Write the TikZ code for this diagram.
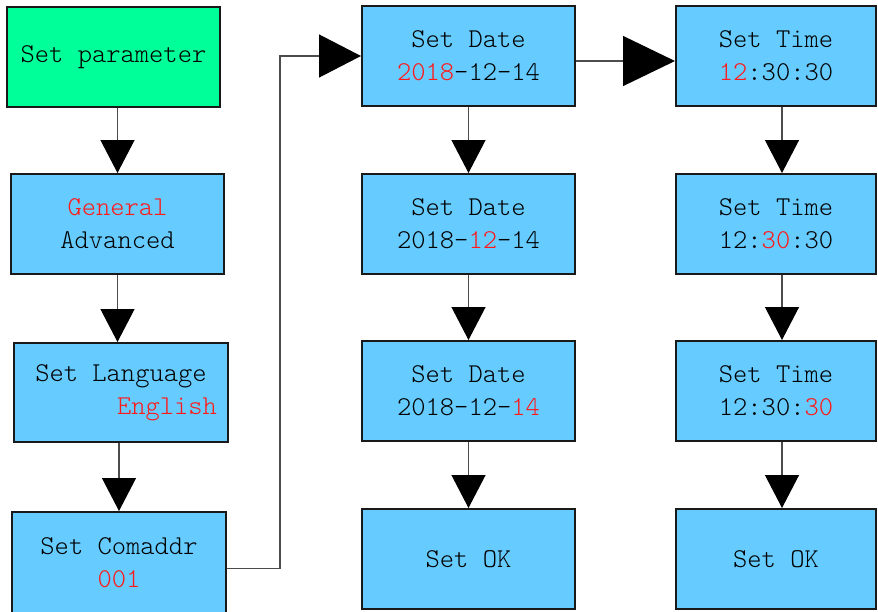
\documentclass[tikz,border=0pt]{standalone}
\usepackage{xcolor}
\usepackage{tikz}
\usetikzlibrary{arrows.meta}
\definecolor{paramgreen}{RGB}{0,255,153}
\definecolor{boxblue}{RGB}{102,204,255}
\definecolor{setred}{RGB}{255,25,25}
\newcommand{\rd}[1]{\textcolor{setred}{#1}}

\begin{document}
\begin{tikzpicture}[x=0.5pt,y=-0.5pt,
 box/.style={draw=black!90,line width=1pt,fill=boxblue,inner sep=0pt,minimum width=106.5pt,minimum height=50pt,
  align=center,font=\fontsize{13.6}{16.5}\selectfont\ttfamily\fontseries{l}\selectfont},
 link/.style={draw=black!70,line width=0.6pt},
 down/.style={link,-{Triangle[length=16.5pt,width=17pt,black]}},
 bigtip/.style={link,-{Triangle[length=21pt,width=21.5pt,black]}},
 hugetip/.style={link,-{Triangle[length=26pt,width=25pt,black]}}]
\useasboundingbox(0,0)rectangle(878,611);
\node[box,fill=paramgreen](par)at(113.5,57){Set parameter};
\node[box](mode)at(117.5,224){\rd{General}\\Advanced};
\node[box,minimum width=107pt,minimum height=49.5pt](lang)at(121,392.5){Set Language\\\hspace*{46pt}\rd{English}};
\node[box,minimum width=107pt,minimum height=50.5pt](addr)at(119,562.5){Set Comaddr\\\rd{001}};
\node[box](year)at(468.5,56){Set Date\\\rd{2018}-12-14};
\node[box](month)at(468.5,224){Set Date\\2018-\rd{12}-14};
\node[box](day)at(468.5,391){Set Date\\2018-12-\rd{14}};
\node[box](dateok)at(468.5,559){Set OK};
\node[box,minimum width=100pt](hour)at(776,56){Set Time\\\rd{12}:30:30};
\node[box,minimum width=100pt](minute)at(776,224){Set Time\\12:\rd{30}:30};
\node[box,minimum width=100pt](second)at(776,391){Set Time\\12:30:\rd{30}};
\node[box,minimum width=100pt](timeok)at(776,559){Set OK};
\draw[down](mode.north|-par.south)--(mode.north);
\draw[down](mode.south)--(mode.south|-lang.north);
\draw[down](addr.north|-lang.south)--(addr.north);
\draw[bigtip]([yshift=-3pt]addr.east)--++(53,0)|-(year.west);
\draw[down](year)--(month);
\draw[down](month)--(day);
\draw[down](day)--(dateok);
\draw[hugetip]([yshift=-2.5pt]year.east)--([yshift=-2.5pt]hour.west);
\draw[down]([xshift=3pt]hour.south)--([xshift=3pt]minute.north);
\draw[down]([xshift=3pt]minute.south)--([xshift=3pt]second.north);
\draw[down]([xshift=3pt]second.south)--([xshift=3pt]timeok.north);
\end{tikzpicture}
\end{document}
